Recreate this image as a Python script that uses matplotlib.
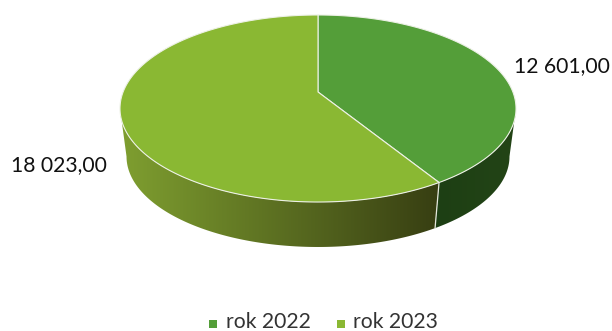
import numpy as np
import matplotlib
matplotlib.use("Agg")
import matplotlib.pyplot as plt
from matplotlib.patches import Polygon
from matplotlib.colors import to_rgb

categories = ["rok 2022", "rok 2023"]
values = [12601.0, 18023.0]
labels = ["12 601,00", "18 023,00"]
top_colors = ["#549E39", "#8AB833"]
side_left = ["#1D3F14", "#7F9F30"]
side_right = ["#234416", "#373E12"]

plt.rcParams["font.family"] = ["Lato", "DejaVu Sans"]
fig = plt.figure(figsize=(6.12, 3.31), dpi=100)
ax = fig.add_axes([0, 0, 1, 1])

CX, CY = 318.0, 92.0
A, B, K = 194.9, 90.6, 0.1765
DEPTH_Y, SCALE = 48.6, 0.967


def project(theta, bottom=False):
    u, v = np.sin(theta), np.cos(theta)
    w = 1 + K * v
    s = SCALE if bottom else 1.0
    dy = DEPTH_Y if bottom else 0.0
    return CX + s * A * u / w, CY + dy - s * B * v / w


fractions = np.array(values) / sum(values)
edges = np.concatenate([[0], np.cumsum(fractions)]) * 2 * np.pi

# Only the front of the rim is visible: it runs between the two side extremes
front_start = np.arccos(-K)
front_end = 2 * np.pi - front_start

# Side wall: one horizontal gradient per slice, clipped to the wall's outline
for i in range(len(values)):
    th = np.linspace(max(edges[i], front_start), min(edges[i + 1], front_end), 400)
    x0, y0 = project(th)
    x1, y1 = project(th[::-1], bottom=True)
    outline = np.column_stack([np.r_[x0, x1], np.r_[y0, y1]])
    xmin, xmax = outline[:, 0].min(), outline[:, 0].max()
    t = np.linspace(0, 1, 256)[None, :, None]
    grad = (1 - t) * np.array(to_rgb(side_left[i]))[None, None, :] + t * np.array(to_rgb(side_right[i]))[None, None, :]
    im = ax.imshow(grad, extent=(xmin, xmax, 260, 0), aspect="auto",
                   interpolation="bilinear", zorder=2)
    clip = Polygon(outline, closed=True, transform=ax.transData)
    im.set_clip_path(clip)

ax.set_xlim(0, 612)
ax.set_ylim(331, 0)
ax.axis("off")

# Light seam on the wall at the slice boundary
xs, ys = project(np.array([edges[1]]))
xb, yb = project(np.array([edges[1]]), bottom=True)
ax.plot([xs[0], xb[0]], [ys[0], yb[0]], color="#E4E8DC", lw=0.9, zorder=3)

# Top face
for i in range(len(values)):
    th = np.linspace(edges[i], edges[i + 1], 300)
    x, y = project(th)
    pts = np.column_stack([np.r_[CX, x], np.r_[CY, y]])
    ax.add_patch(Polygon(pts, closed=True, facecolor=top_colors[i],
                         edgecolor="#EDF1E6", linewidth=0.8, joinstyle="round", zorder=4))

# Data labels
ax.text(561.5, 66, labels[0], ha="center", va="center", fontsize=15.2, color="#111111", zorder=5)
ax.text(59, 165, labels[1], ha="center", va="center", fontsize=15.2, color="#111111", zorder=5)

# Legend
for mx, tx, name, c in zip([212.5, 340.5], [226, 353], categories, top_colors):
    ax.scatter([mx], [323.5], marker="s", s=30, color=c, linewidths=0, zorder=5)
    ax.text(tx, 328, name, ha="left", va="baseline", fontsize=15.2, color="#333333", zorder=5)

fig.savefig("out.png", dpi=100)
